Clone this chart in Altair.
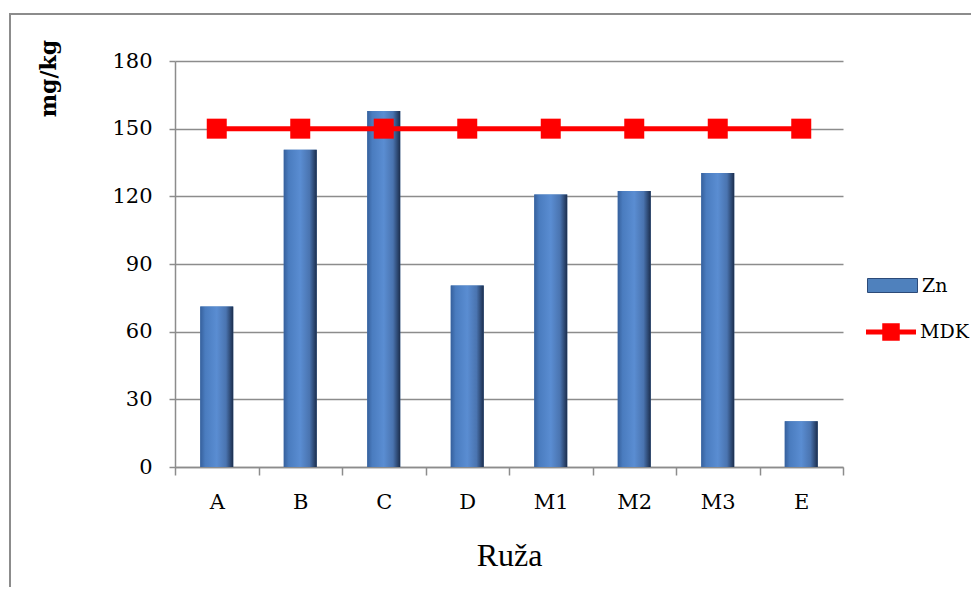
import altair as alt
import pandas as pd

categories = ["A", "B", "C", "D", "M1", "M2", "M3", "E"]
zn_values = [71.2, 140.7, 157.8, 80.5, 120.8, 122.4, 130.3, 20.3]
mdk_values = [150, 150, 150, 150, 150, 150, 150, 150]
y_ticks = [0, 30, 60, 90, 120, 150, 180]

df = pd.DataFrame({
    "cat": categories,
    "Zn": zn_values,
    "MDK": mdk_values,
    "s_zn": ["Zn"] * len(categories),
    "s_mdk": ["MDK"] * len(categories),
})

W, H = 668, 406
GRID = "#8c8c8c"
LABEL_FONT = "DejaVu Serif"

x_enc = alt.X(
    "cat:N",
    sort=categories,
    scale=alt.Scale(paddingInner=0, paddingOuter=0),
    axis=alt.Axis(
        title="Ruža",
        labelAngle=0,
        tickBand="extent",
        grid=False,
        domainColor=GRID,
        domainWidth=1.5,
        tickColor=GRID,
        tickWidth=1.5,
        tickSize=8,
        labelFont=LABEL_FONT,
        labelFontSize=21,
        labelColor="black",
        labelPadding=16,
        titleFont="Liberation Serif",
        titleFontSize=32,
        titleFontWeight="normal",
        titleColor="black",
        titleBaseline="alphabetic",
        titleY=98,
    ),
)

y_enc = alt.Y(
    "Zn:Q",
    scale=alt.Scale(domain=[0, 180], nice=False),
    axis=alt.Axis(
        title="mg/kg",
        values=y_ticks,
        grid=True,
        gridColor=GRID,
        gridWidth=1.5,
        domainColor=GRID,
        domainWidth=1.5,
        tickColor=GRID,
        tickWidth=1.5,
        tickSize=6,
        labelFont=LABEL_FONT,
        labelFontSize=21,
        labelColor="black",
        labelPadding=17,
        titleFont=LABEL_FONT,
        titleFontSize=22,
        titleFontWeight="bold",
        titleColor="black",
        titleAngle=270,
        titleX=-127,
        titleY=17,
        titleAlign="center",
        titleBaseline="middle",
    ),
)

base = alt.Chart(df)

frame = alt.Chart(alt.Data(values=[{"f": 1}])).mark_rect(
    filled=False, stroke="#8c8c8c", strokeWidth=2
).encode(
    x=alt.value(-165), x2=alt.value(830), y=alt.value(-47), y2=alt.value(600)
)

bars_solid = base.mark_bar(width=alt.RelativeBandSize(0.395)).encode(
    x=x_enc,
    y=y_enc,
    fill=alt.Fill(
        "s_zn:N",
        scale=alt.Scale(domain=["Zn"], range=["#4f81bd"]),
        legend=alt.Legend(
            title=None,
            orient="none",
            legendX=692,
            legendY=199,
            padding=0,
            symbolType="M-1,-0.28H1V0.28H-1Z",
            symbolSize=2500,
            symbolStrokeColor="#2c4a78",
            symbolStrokeWidth=1,
            labelFont=LABEL_FONT,
            labelFontSize=19,
            labelColor="black",
            labelOffset=4,
        ),
    ),
)

gradient = alt.Gradient(
    gradient="linear",
    x1=0, x2=1, y1=0, y2=0,
    stops=[
        alt.GradientStop(color="#36609c", offset=0),
        alt.GradientStop(color="#4a7cbf", offset=0.15),
        alt.GradientStop(color="#5a8dd2", offset=0.5),
        alt.GradientStop(color="#4a74b0", offset=0.78),
        alt.GradientStop(color="#1b2d4c", offset=1),
    ],
)

bars_grad = base.mark_bar(width=alt.RelativeBandSize(0.395), color=gradient).encode(
    x=x_enc,
    y=y_enc,
)

line = base.mark_line(color="#ff0000", strokeWidth=5).encode(
    x=x_enc,
    y=alt.Y("MDK:Q"),
)

points = base.mark_point(shape="square", filled=True, size=400, opacity=1).encode(
    x=x_enc,
    y=alt.Y("MDK:Q"),
    color=alt.Color(
        "s_mdk:N",
        scale=alt.Scale(domain=["MDK"], range=["#ff0000"]),
        legend=alt.Legend(
            title=None,
            orient="none",
            legendX=691,
            legendY=246,
            padding=0,
            symbolType="M-1,-0.1H-0.35V-0.35H0.35V-0.1H1V0.1H0.35V0.35H-0.35V0.1H-1Z",
            symbolSize=2500,
            symbolStrokeWidth=0,
            labelFont=LABEL_FONT,
            labelFontSize=19,
            labelColor="black",
            labelOffset=4,
        ),
    ),
)

chart = (
    alt.layer(frame, bars_solid, bars_grad, line, points)
    .resolve_scale(fill="independent", color="independent")
    .properties(
        width=W,
        height=H,
        autosize=alt.AutoSizeParams(type="none"),
        padding={"left": 167, "top": 53, "right": 128, "bottom": 120},
        background="white",
    )
    .configure_view(stroke=None)
)

chart.save("out.html", embed_options={"renderer": "svg", "actions": False})
